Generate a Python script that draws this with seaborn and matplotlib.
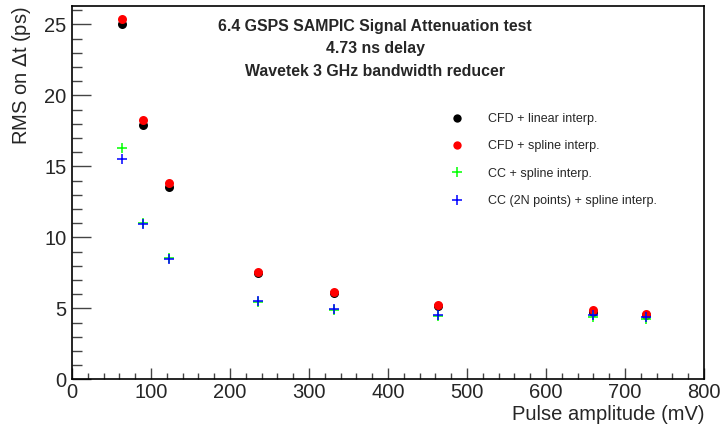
import matplotlib
matplotlib.use("Agg")
import matplotlib.pyplot as plt
from matplotlib.ticker import MultipleLocator
from matplotlib.lines import Line2D
import seaborn as sns
import pandas as pd

amplitude = [63, 90, 123, 236, 332, 463, 660, 727]
cfd_linear = [25.05, 17.94, 13.55, 7.49, 6.06, 5.16, 4.76, 4.50]
cfd_spline = [25.35, 18.25, 13.80, 7.58, 6.15, 5.23, 4.86, 4.60]
cc_spline = [16.30, 11.02, 8.52, 5.44, 4.86, 4.45, 4.41, 4.27]
cc_2n_spline = [15.54, 10.96, 8.50, 5.51, 4.92, 4.51, 4.51, 4.37]

labels = ["CFD + linear interp.", "CFD + spline interp.",
          "CC + spline interp.", "CC (2N points) + spline interp."]
colors = ["#000000", "#ff0000", "#00ff00", "#0000ff"]
markers = ["o", "o", "+", "+"]
title_lines = ["6.4 GSPS SAMPIC Signal Attenuation test", "4.73 ns delay",
               "Wavetek 3 GHz bandwidth reducer"]

sns.set_style("white")
plt.rcParams['font.family'] = ['Liberation Sans', 'DejaVu Sans']

W, H = 721, 426
fig = plt.figure(figsize=(W / 100, H / 100), dpi=100)
ax = fig.add_axes([72 / W, 1 - 379.3 / H, (704 - 72) / W, (379.3 - 6) / H])

series = [cfd_linear, cfd_spline, cc_spline, cc_2n_spline]
for vals, lab, col, mk in zip(series, labels, colors, markers):
    df = pd.DataFrame({"amp": amplitude, "rms": vals})
    if mk == "o":
        sns.scatterplot(data=df, x="amp", y="rms", ax=ax, color=col, marker="o",
                        s=42, linewidth=0, legend=False, zorder=3)
    else:
        sns.scatterplot(data=df, x="amp", y="rms", ax=ax, color=col, marker="+",
                        s=60, linewidth=1.1, legend=False, zorder=4)

ax.set_xlim(0, 800)
ax.set_ylim(0, 26.3)
ax.xaxis.set_major_locator(MultipleLocator(100))
ax.xaxis.set_minor_locator(MultipleLocator(20))
ax.yaxis.set_major_locator(MultipleLocator(5))
ax.yaxis.set_minor_locator(MultipleLocator(1))
ax.tick_params(axis='x', which='major', direction='in', length=8, width=1, labelsize=14.5, pad=3,
               bottom=True, top=False, color='#444444')
ax.tick_params(axis='x', which='minor', direction='in', length=4.3, width=1, bottom=True, top=False,
               color='#444444')
ax.tick_params(axis='y', which='major', direction='in', length=13.5, width=1, labelsize=14.5, pad=4,
               left=True, right=False, color='#444444')
ax.tick_params(axis='y', which='minor', direction='in', length=7, width=1, left=True, right=False,
               color='#444444')
for sp in ax.spines.values():
    sp.set_color('black')
    sp.set_linewidth(1.2)

ax.set_xlabel("Pulse amplitude (mV)", fontsize=14.5, loc='right', labelpad=2)
ax.set_ylabel("RMS on $\\Delta$t (ps)", fontsize=14.5, loc='top', labelpad=8)

ys = [27, 49, 72]
for t, y in zip(title_lines, ys):
    fig.text(375 / W, 1 - y / H, t, ha='center', va='center', fontsize=11.4, fontweight='bold')

handles = []
for lab, col, mk in zip(labels, colors, markers):
    if mk == "o":
        h = Line2D([], [], linestyle='none', marker='o', markersize=6, color=col, markeredgewidth=0)
    else:
        h = Line2D([], [], linestyle='none', marker='+', markersize=7, color=col, markeredgewidth=1.1)
    handles.append(h)
leg = ax.legend(handles, labels, loc='upper left', bbox_to_anchor=(436 / W, 1 - 102 / H),
                bbox_transform=fig.transFigure, frameon=False, fontsize=9,
                labelspacing=1.22, handletextpad=1.75, handlelength=1.5)

fig.savefig("out.png", dpi=100)
